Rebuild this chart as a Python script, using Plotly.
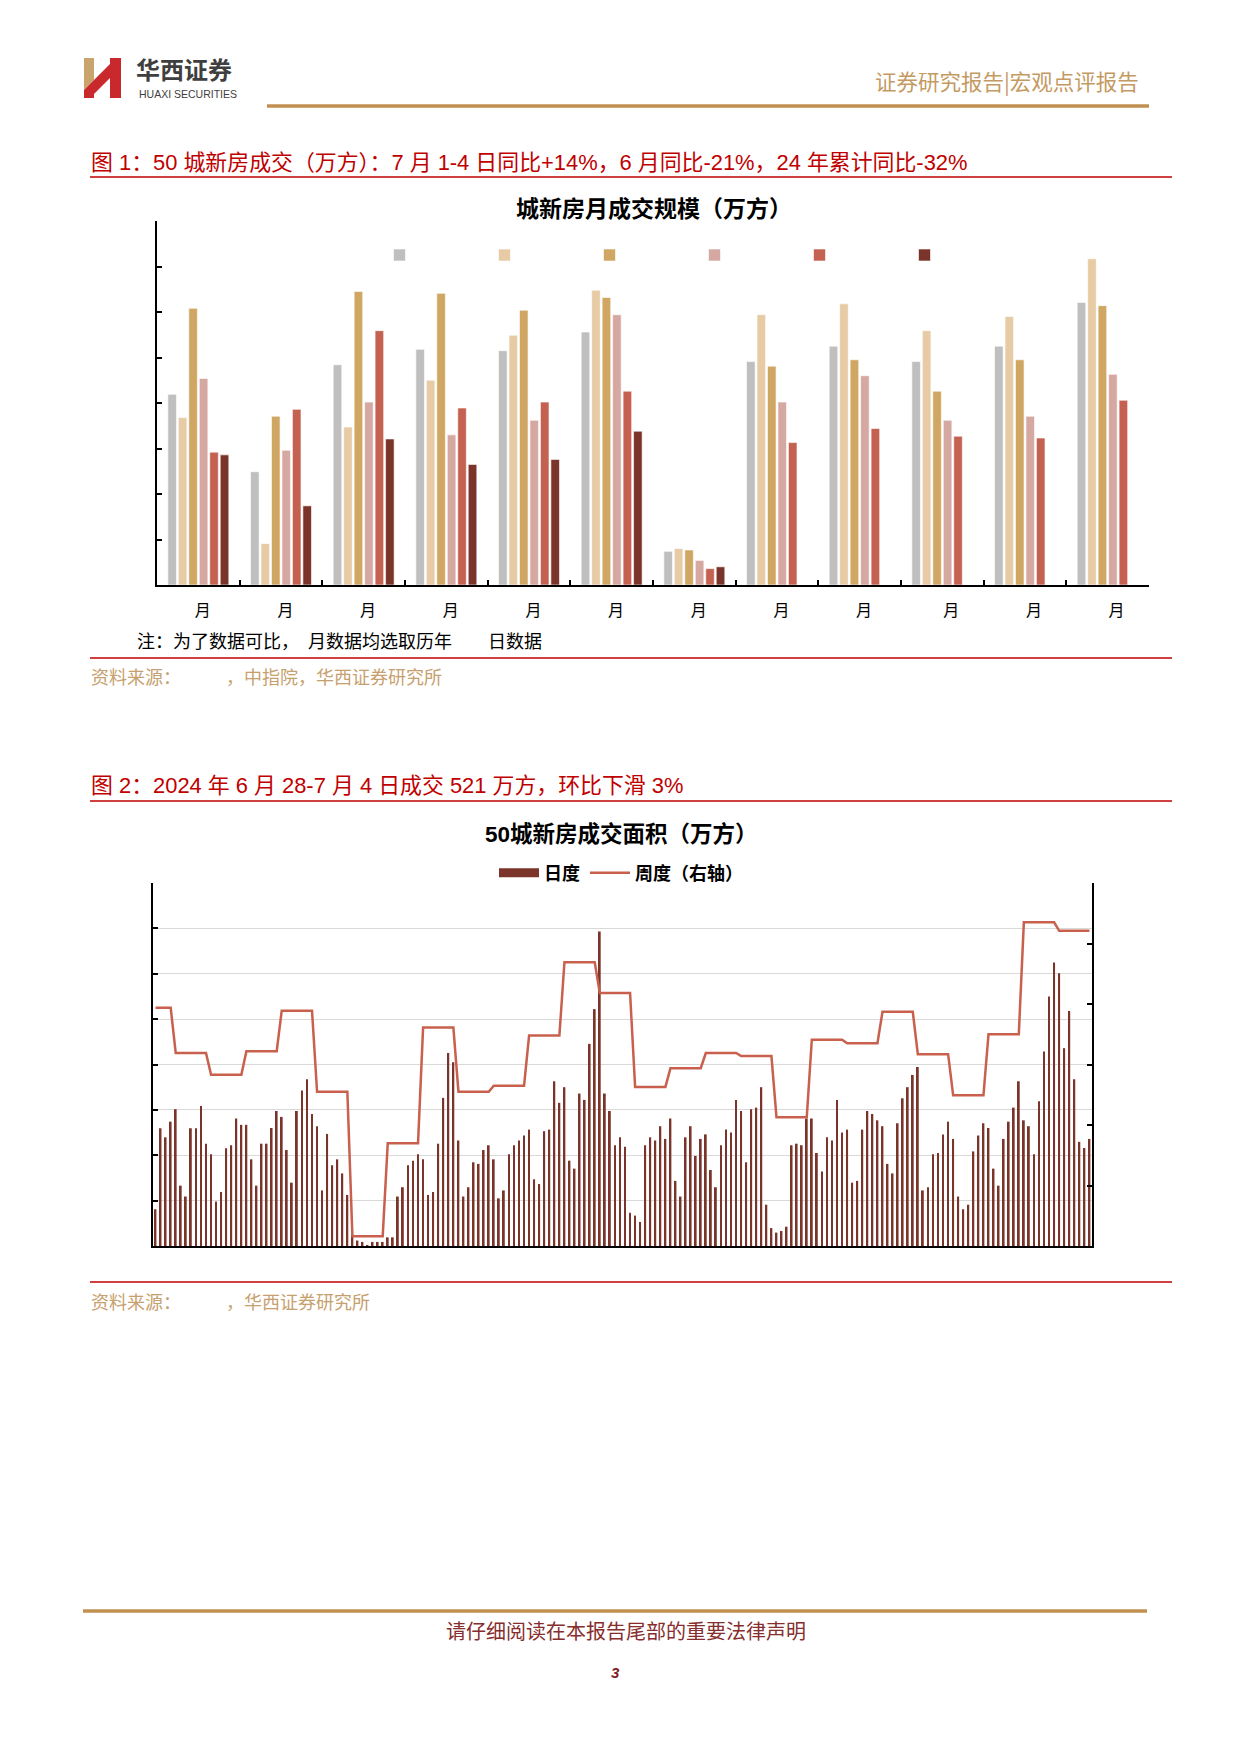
import plotly.graph_objects as go
import pandas as pd

W, H = 1241, 1755


def px(x):
    return x / W


def py(y):
    return 1 - y / H


FONT_CJK = "Noto Sans CJK SC"
FONT_MIX = "Liberation Sans, Noto Sans CJK SC"

# ---------------- Chart 1 data: monthly new-home sales (50 cities) ----------------
months = [f"{m}月" for m in range(1, 13)]
# digits of the tick labels are not rendered in the source, only "月" is visible
month_labels = ["\u2007月"] * 9 + ["\u2007\u2007月"] * 3
v2019 = [419, 249, 484, 518, 515, 556, 74, 491, 525, 491, 525, 621]
v2020 = [368, 91, 347, 450, 549, 648, 80, 594, 618, 559, 590, 717]
v2021 = [608, 371, 645, 641, 604, 632, 77, 481, 495, 426, 495, 614]
v2022 = [454, 296, 402, 330, 362, 594, 54, 402, 460, 362, 371, 463]
v2023 = [292, 386, 559, 389, 402, 426, 36, 313, 344, 327, 323, 406]
v2024 = [286, 174, 321, 265, 276, 338, 40, None, None, None, None, None]
series_vals = [v2019, v2020, v2021, v2022, v2023, v2024]
series_colors = ["#BFBFBF", "#E6CBA5", "#CFA763", "#D6A8A2", "#C46150", "#7B342A"]

# ---------------- Chart 2 data: daily and weekly transaction area ----------------
daily = [
    16.2, 51.9, 47.9, 54.8, 60.3, 26.6, 21.8, 51.9, 51.9, 61.7,
    45.1, 40.4, 19.6, 23.8, 43.1, 44.4, 56.2, 53.4, 53.4, 38.2,
    26.6, 45.1, 45.1, 52.0, 59.5, 56.9, 42.3, 27.9, 59.5, 68.5,
    73.5, 58.2, 52.8, 24.5, 49.4, 35.6, 38.2, 32.0, 22.5, 5.0,
    2.4, 1.8, 0.4, 1.8, 1.8, 1.8, 3.8, 3.8, 21.8, 25.9,
    35.6, 37.6, 40.4, 38.2, 22.5, 23.8, 45.1, 65.3, 85.1, 81.0,
    46.5, 21.8, 25.9, 36.9, 36.2, 42.3, 44.4, 38.2, 21.0, 24.5,
    40.4, 44.4, 46.5, 48.7, 51.3, 29.4, 27.3, 50.6, 51.3, 72.6,
    63.1, 70.0, 37.6, 34.1, 67.2, 64.4, 89.1, 104.4, 138.6, 67.2,
    59.5, 44.4, 47.9, 43.8, 14.7, 13.4, 10.6, 44.4, 47.9, 46.5,
    52.8, 47.2, 56.2, 28.7, 21.8, 47.9, 52.8, 39.7, 47.2, 49.2,
    33.5, 25.9, 44.4, 51.3, 50.0, 64.4, 59.5, 36.9, 60.3, 61.0,
    70.0, 18.2, 7.9, 5.9, 6.6, 8.5, 44.4, 45.1, 44.4, 56.2,
    56.2, 41.0, 32.8, 47.9, 46.5, 64.4, 50.0, 51.3, 27.9, 28.7,
    51.3, 59.5, 58.2, 55.4, 52.8, 36.2, 32.0, 54.1, 65.1, 70.0,
    75.4, 78.9, 24.5, 25.9, 40.4, 41.0, 49.2, 54.8, 47.2, 21.8,
    16.2, 18.2, 41.7, 48.7, 54.1, 52.0, 34.1, 26.6, 47.2, 54.8,
    61.0, 72.6, 55.4, 52.8, 40.4, 63.8, 85.7, 110.0, 125.0, 120.2,
    87.2, 103.6, 73.5, 45.9, 43.2, 47.2,
]
# weekly totals (Fri-Thu weeks), right axis
weekly = [394, 319, 283, 322, 389, 255, 16, 170, 361, 255, 265, 348, 469, 418,
          263, 294, 319, 314, 213, 341, 335, 387, 317, 249, 350, 535, 521]

dates = pd.date_range("2024-01-01", periods=len(daily), freq="D")
week_of_day = [0 if d < 4 else (d - 4) // 7 + 1 for d in range(len(daily))]
weekly_by_day = [weekly[w] for w in week_of_day]

fig = go.Figure()

for vals, col in zip(series_vals, series_colors):
    fig.add_trace(go.Bar(
        x=months, y=vals, name="\u2007\u2007\u2007\u2007",
        marker=dict(color=col, line=dict(color="white", width=0.6)),
        xaxis="x", yaxis="y", legend="legend",
    ))

fig.add_trace(go.Bar(
    x=dates, y=daily, width=0.36 * 86400000, name="日度",
    marker=dict(color="#7B342A", line=dict(width=0)),
    xaxis="x2", yaxis="y2", showlegend=False,
))
fig.add_trace(go.Scatter(
    x=[None], y=[None], mode="lines", name="日度",
    line=dict(color="#7B342A", width=9),
    xaxis="x2", yaxis="y2", legend="legend2",
))
fig.add_trace(go.Scatter(
    x=dates, y=weekly_by_day, mode="lines", name="周度（右轴）",
    line=dict(color="#C8604D", width=2.5),
    xaxis="x2", yaxis="y3", legend="legend2",
))

axis_common = dict(showline=True, linecolor="black", linewidth=1.5,
                   zeroline=False, showgrid=False)

half_day = pd.Timedelta(hours=12)

fig.update_layout(
    width=W, height=H, autosize=False,
    margin=dict(l=0, r=0, t=0, b=0),
    paper_bgcolor="white", plot_bgcolor="white",
    barmode="group", bargap=0.24, bargroupgap=0.18,
    font=dict(family=FONT_MIX, color="black"),
    xaxis=dict(domain=[px(157), px(1149)], anchor="y", type="category",
               range=[-0.5, 11.5], ticks="inside", tickson="boundaries",
               ticklen=5, tickwidth=1.5, tickcolor="black",
               tickvals=months, ticktext=month_labels,
               tickfont=dict(family=FONT_CJK, size=16, color="black"),
               ticklabelstandoff=10, **axis_common),
    yaxis=dict(domain=[py(585), py(221)], anchor="x", range=[0, 800], dtick=100,
               ticks="inside", ticklen=5, tickwidth=1.5, tickcolor="black",
               showticklabels=False, **axis_common),
    xaxis2=dict(domain=[px(153), px(1092)], anchor="y2", type="date",
                range=[dates[0] - half_day, dates[-1] + half_day],
                showticklabels=False, ticks="", **axis_common),
    yaxis2=dict(domain=[py(1246), py(883)], anchor="x2", range=[0, 160], dtick=20,
                ticks="inside", ticklen=5, tickwidth=1.5, tickcolor="black",
                showticklabels=False, showline=True, linecolor="black", linewidth=1.5,
                zeroline=False, showgrid=True, gridcolor="#D9D9D9", gridwidth=1.2),
    yaxis3=dict(overlaying="y2", side="right", anchor="x2", range=[0, 600], dtick=100,
                ticks="inside", ticklen=5, tickwidth=1.5, tickcolor="black",
                showticklabels=False, **axis_common),
    legend=dict(orientation="h", x=px(379.5), y=py(255), xanchor="left", yanchor="middle",
                entrywidth=60, entrywidthmode="pixels", font=dict(size=10),
                bgcolor="rgba(0,0,0,0)", traceorder="normal"),
    legend2=dict(orientation="h", x=px(621), y=py(873), xanchor="center", yanchor="middle",
                 itemwidth=40,
                 font=dict(family=FONT_CJK, size=18, color="black", weight="bold"),
                 bgcolor="rgba(0,0,0,0)", traceorder="normal"),
)

RED = "#C00000"
GOLD = "#C09050"

shapes = [
    # header gold rule
    dict(type="line", xref="paper", yref="paper", x0=px(267), x1=px(1149), y0=py(106), y1=py(106),
         line=dict(color=GOLD, width=3.5)),
    # red rules
    dict(type="line", xref="paper", yref="paper", x0=px(90), x1=px(1172), y0=py(177), y1=py(177),
         line=dict(color=RED, width=1.6)),
    dict(type="line", xref="paper", yref="paper", x0=px(90), x1=px(1172), y0=py(658), y1=py(658),
         line=dict(color=RED, width=1.6)),
    dict(type="line", xref="paper", yref="paper", x0=px(90), x1=px(1172), y0=py(801), y1=py(801),
         line=dict(color=RED, width=1.6)),
    dict(type="line", xref="paper", yref="paper", x0=px(90), x1=px(1172), y0=py(1282), y1=py(1282),
         line=dict(color=RED, width=1.6)),
    # footer gold rule
    dict(type="line", xref="paper", yref="paper", x0=px(83), x1=px(1147), y0=py(1611), y1=py(1611),
         line=dict(color=GOLD, width=3.5)),
]


def poly(points):
    return "M " + " L ".join(f"{px(x)},{py(y)}" for x, y in points) + " Z"


logo_red = "#C9282D"
logo_gold = "#C9A46C"
shapes += [
    dict(type="path", xref="paper", yref="paper", path=poly([(84, 58), (94, 58), (94, 80), (84, 90)]),
         fillcolor=logo_gold, line=dict(width=0)),
    dict(type="path", xref="paper", yref="paper", path=poly([(84, 90), (94, 80), (94, 98), (84, 98)]),
         fillcolor=logo_red, line=dict(width=0)),
    dict(type="path", xref="paper", yref="paper", path=poly([(94, 80), (110, 64), (110, 78), (94, 94)]),
         fillcolor=logo_red, line=dict(width=0)),
    dict(type="path", xref="paper", yref="paper", path=poly([(110, 58), (121, 58), (121, 98), (110, 98)]),
         fillcolor=logo_red, line=dict(width=0)),
]


def ann(text, x, y, size, color="black", xanchor="left", bold=False, family=FONT_MIX, italic=False):
    return dict(text=text, x=px(x), y=py(y), xref="paper", yref="paper",
                xanchor=xanchor, yanchor="middle", showarrow=False,
                font=dict(family=family, size=size, color=color,
                          weight="bold" if bold else "normal",
                          style="italic" if italic else "normal"))


annotations = [
    ann("华西证券", 134, 68, 24, color="#3F3F3F", bold=True, family=FONT_CJK),
    ann("HUAXI SECURITIES", 137, 94, 10.5, color="#404040", family="Liberation Sans"),
    ann("证券研究报告|宏观点评报告", 1141, 80, 21.5, color="#C49A62", xanchor="right", family=FONT_CJK),
    ann("图 1：50 城新房成交（万方）：7 月 1-4 日同比+14%，6 月同比-21%，24 年累计同比-32%",
        89, 162, 21.9, color=RED),
    ann("城新房月成交规模（万方）", 654, 207, 23, xanchor="center", bold=True, family=FONT_CJK),
    ann("注：为了数据可比，\u3000月数据均选取历年\u3000\u3000日数据", 135, 640, 18, family=FONT_CJK),
    ann("资料来源：\u3000\u3000\u3000，中指院，华西证券研究所", 89, 676, 18, color="#C6A06E", family=FONT_CJK),
    ann("图 2：2024 年 6 月 28-7 月 4 日成交 521 万方，环比下滑 3%", 89, 785, 21.9, color=RED),
    ann("50城新房成交面积（万方）", 621, 834, 22.5, xanchor="center", bold=True),
    ann("资料来源：\u3000\u3000\u3000，华西证券研究所", 89, 1301, 18, color="#C6A06E", family=FONT_CJK),
    ann("请仔细阅读在本报告尾部的重要法律声明", 626, 1630, 20, color="#862D2D", xanchor="center",
        family=FONT_CJK),
    ann("3", 615, 1672, 15, color="#7F1F1F", xanchor="center", bold=True, italic=True),
]

fig.update_layout(shapes=shapes, annotations=annotations)

fig.write_html("out.html", config={"displayModeBar": False, "responsive": False},
               post_script="document.body.style.margin='0';")
